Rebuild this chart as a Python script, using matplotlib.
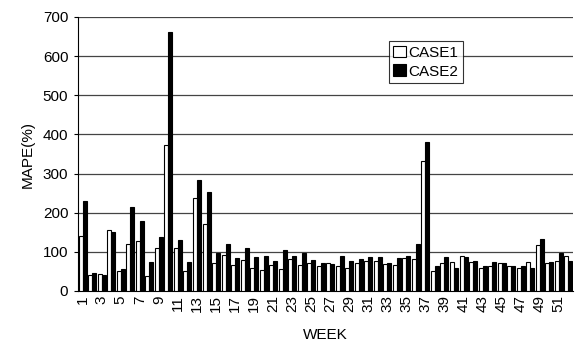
import numpy as np
import matplotlib
matplotlib.use("Agg")
from matplotlib import pyplot as plt

weeks = np.arange(1, 53)
case1 = [141, 41, 44, 155, 52, 119, 128, 38, 110, 374,
         110, 50, 237, 171, 71, 91, 67, 79, 59, 53,
         67, 56, 81, 66, 71, 65, 71, 65, 60, 71,
         76, 76, 69, 67, 85, 82, 332, 51, 71, 73,
         89, 73, 59, 64, 71, 64, 60, 73, 117, 71,
         76, 90]
case2 = [231, 45, 42, 151, 56, 215, 180, 73, 139, 661,
         131, 74, 284, 254, 98, 120, 85, 110, 87, 90,
         76, 105, 89, 98, 80, 71, 69, 89, 77, 82,
         87, 87, 71, 84, 89, 120, 381, 65, 87, 59,
         87, 76, 63, 73, 72, 64, 63, 60, 133, 73,
         98, 77]
series_names = ["CASE1", "CASE2"]
yticks = np.arange(0, 701, 100)

plt.rcParams["font.family"] = ["Liberation Sans", "DejaVu Sans"]

fig = plt.figure(figsize=(5.75, 3.43), dpi=100)
ax = fig.add_axes([78 / 575, 1 - 291 / 343, 495 / 575, 274 / 343])

w = 0.42
ax.bar(weeks - w / 2, case1, width=w, color="white", edgecolor="black",
       linewidth=0.8, label=series_names[0], zorder=3)
ax.bar(weeks + w / 2, case2, width=w, color="black", edgecolor="black",
       linewidth=0.8, label=series_names[1], zorder=3)

ax.set_xlim(0.5, 52.5)
ax.set_ylim(0, 700)
ax.set_yticks(yticks)
ax.set_yticklabels([str(v) for v in yticks], fontsize=11)
ax.yaxis.grid(True, color="#444444", linewidth=0.9, zorder=0)
ax.set_axisbelow(True)

ax.set_xticks(weeks[::2])
ax.set_xticklabels([str(v) for v in weeks[::2]], rotation=90, fontsize=11)
ax.tick_params(axis="x", length=0, pad=3)
ax.tick_params(axis="y", length=3, direction="out", pad=4)

for s in ["top", "right"]:
    ax.spines[s].set_visible(False)
ax.spines["left"].set_color("black")
ax.spines["bottom"].set_color("black")

ax.set_xlabel("WEEK", fontsize=11)
ax.xaxis.set_label_coords(0.5, -0.135)
ax.set_ylabel("MAPE(%)", fontsize=11, labelpad=6)

leg = ax.legend(loc="upper left", bbox_to_anchor=(0.628, 0.912),
                frameon=True, fancybox=False, fontsize=11,
                handlelength=0.8, handleheight=0.8, handletextpad=0.2,
                borderpad=0.3, labelspacing=0.3, borderaxespad=0)
leg.get_frame().set_edgecolor("black")
leg.get_frame().set_linewidth(0.8)

fig.savefig("out.png", dpi=100)
